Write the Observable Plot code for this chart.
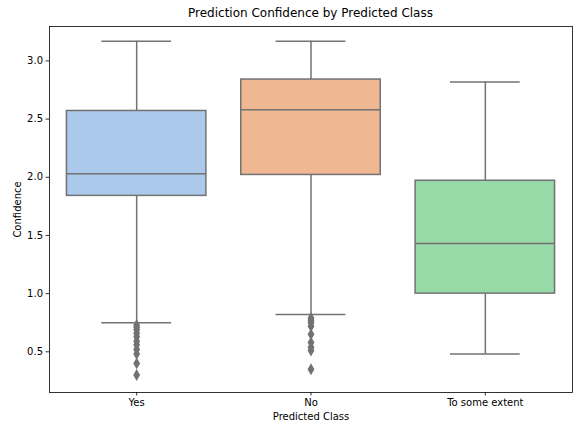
<!DOCTYPE html>
<html>
<head>
<meta charset="utf-8">
<script src="https://cdn.jsdelivr.net/npm/d3@7"></script>
<script src="https://cdn.jsdelivr.net/npm/@observablehq/plot@0.6"></script>
<style>
  body { margin: 0; background: #fff; font-family: "DejaVu Sans", sans-serif; }
  #title { width: 573px; box-sizing: border-box; padding-left: 49px; padding-right: 1px; height: 20px; line-height: 26px; text-align: center; font-size: 12px; color: #000; }
</style>
</head>
<body>
<div id="title">Prediction Confidence by Predicted Class</div>
<div id="chart"></div>
<script>
const categories = ["Yes", "No", "To some extent"];
const lowerWhisker = [0.75, 0.82, 0.48];
const q1 = [1.84, 2.02, 1.00];
const median = [2.03, 2.58, 1.43];
const q3 = [2.57, 2.84, 1.97];
const upperWhisker = [3.17, 3.17, 2.82];
const outliersYes = [0.73, 0.71, 0.69, 0.66, 0.63, 0.59, 0.56, 0.52, 0.48, 0.40, 0.30];
const outliersNo = [0.79, 0.77, 0.75, 0.72, 0.65, 0.58, 0.54, 0.51, 0.35];
const outliersExtent = [];
const yTicks = [0.5, 1.0, 1.5, 2.0, 2.5, 3.0];

const boxes = categories.map((c, i) => ({
  cat: c, i, lo: lowerWhisker[i], q1: q1[i], med: median[i], q3: q3[i], hi: upperWhisker[i]
}));
const outliers = [
  ...outliersYes.map(v => ({cat: "Yes", i: 0, v})),
  ...outliersNo.map(v => ({cat: "No", i: 1, v})),
  ...outliersExtent.map(v => ({cat: "To some extent", i: 2, v}))
];

const gray = "#727272";
const lw = 1.5;

const chart = Plot.plot({
  width: 573,
  height: 403,
  marginLeft: 49,
  marginRight: 1,
  marginTop: 6,
  marginBottom: 31,
  style: { fontFamily: "DejaVu Sans, sans-serif", fontSize: "10px", color: "#000", background: "#fff" },
  x: { domain: [-0.5, 2.5] },
  y: { domain: [0.15, 3.296] },
  color: { domain: categories, range: ["#abc9ea", "#efb792", "#98daa7"] },
  marks: [
    // whiskers
    Plot.ruleX(boxes, { x: "i", y1: "q3", y2: "hi", stroke: gray, strokeWidth: lw }),
    Plot.ruleX(boxes, { x: "i", y1: "q1", y2: "lo", stroke: gray, strokeWidth: lw }),
    // caps
    Plot.ruleY(boxes, { y: "hi", x1: d => d.i - 0.2, x2: d => d.i + 0.2, stroke: gray, strokeWidth: lw }),
    Plot.ruleY(boxes, { y: "lo", x1: d => d.i - 0.2, x2: d => d.i + 0.2, stroke: gray, strokeWidth: lw }),
    // boxes
    Plot.rect(boxes, { x1: d => d.i - 0.4, x2: d => d.i + 0.4, y1: "q1", y2: "q3", fill: "cat", stroke: gray, strokeWidth: lw }),
    // median
    Plot.ruleY(boxes, { y: "med", x1: d => d.i - 0.4, x2: d => d.i + 0.4, stroke: gray, strokeWidth: lw }),
    // outliers
    Plot.dot(outliers, { x: "i", y: "v", symbol: "diamond", r: 3.6, fill: gray, stroke: "none" }),
    Plot.frame({ stroke: "#000", strokeWidth: 0.8 }),
    Plot.axisY({ ticks: yTicks, tickFormat: d3.format(".1f"), tickSize: 3.5, tickPadding: 3, stroke: "#000", strokeWidth: 0.8,
      label: "Confidence", labelAnchor: "center", labelArrow: "none", labelOffset: 36, fontSize: 10 }),
    Plot.axisX({ ticks: [0, 1, 2], tickFormat: i => categories[i], tickSize: 3.5, tickPadding: 3, stroke: "#000", strokeWidth: 0.8,
      label: "Predicted Class", labelAnchor: "center", labelArrow: "none", labelOffset: 27, fontSize: 10 })
  ]
});
document.getElementById("chart").appendChild(chart);
</script>
</body>
</html>
